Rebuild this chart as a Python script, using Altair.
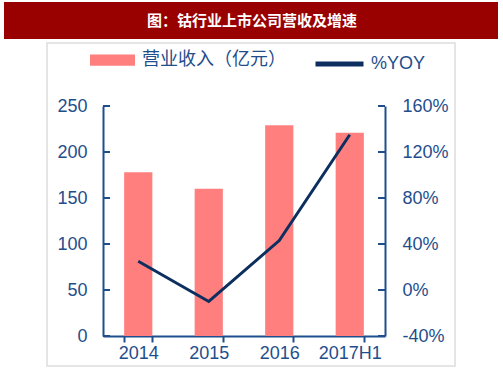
import altair as alt
import pandas as pd

# ---- data ----
years = ["2014", "2015", "2016", "2017H1"]
revenue = [178, 160, 229, 221]          # 营业收入（亿元）
yoy = [25, -10, 43, 135]                # %YOY
left_ticks = [0, 50, 100, 150, 200, 250]
right_ticks = [-40, 0, 40, 80, 120, 160]

rev_label = "营业收入（亿元）"
yoy_label = "%YOY"
title_text = "图：钴行业上市公司营收及增速"

bar_color = "#FF7F7F"
line_color = "#0D2F5F"
axis_color = "#1F4E8C"
num_font = "Liberation Sans, Arial, Helvetica, sans-serif"
cjk_font = "Liberation Sans, Noto Sans CJK SC, sans-serif"

W, H = 282, 230

df = pd.DataFrame({"year": years, "rev": revenue, "yoy": yoy,
                   "s": [rev_label] * 4, "s2": [yoy_label] * 4})
lt = pd.DataFrame({"v": left_ticks})
rt = pd.DataFrame({"v": right_ticks})
one = pd.DataFrame({"a": [0]})

x_enc = alt.X("year:N", sort=years, title=None,
              scale=alt.Scale(paddingInner=0.6, paddingOuter=0.3),
              axis=alt.Axis(orient="bottom", labelAngle=0, tickBand="extent",
                            domainColor=axis_color, domainWidth=2,
                            tickColor=axis_color, tickWidth=2, tickSize=6,
                            labelColor=axis_color, labelFontSize=18,
                            labelFont=num_font, labelPadding=2, grid=False))

left_axis = alt.Axis(orient="left", values=left_ticks, ticks=False, tickSize=0,
                     domainColor=axis_color, domainWidth=2, labelColor=axis_color,
                     labelFontSize=18, labelFont=num_font, labelPadding=16,
                     grid=False, title=None)
right_axis = alt.Axis(orient="right", values=right_ticks, ticks=False, tickSize=0,
                      domainColor=axis_color, domainWidth=2, labelColor=axis_color,
                      labelFontSize=18, labelFont=num_font, labelPadding=17,
                      labelExpr="datum.value + '%'", grid=False, title=None)
left_scale = alt.Scale(domain=[0, 250], nice=False, zero=True)
right_scale = alt.Scale(domain=[-40, 160], nice=False, zero=False)

# decorations
frame = alt.Chart(one).mark_rect(fillOpacity=0, stroke="#DDDDDD", strokeWidth=1.5).encode(
    x=alt.value(-56), x2=alt.value(352), y=alt.value(-63), y2=alt.value(260))
title_bar = alt.Chart(one).mark_rect(fill="#990000").encode(
    x=alt.value(-99), x2=alt.value(395), y=alt.value(-104), y2=alt.value(-67))
title = alt.Chart(one).mark_text(text=title_text, color="white", font="Noto Sans CJK SC",
                                 fontWeight="bold", fontSize=15, baseline="middle",
                                 align="center").encode(
    x=alt.value(149), y=alt.value(-85.5))

bars = alt.Chart(df).mark_bar().encode(
    x=x_enc,
    y=alt.Y("rev:Q", scale=left_scale, axis=left_axis),
    fill=alt.Fill("s:N", scale=alt.Scale(domain=[rev_label], range=[bar_color]),
                  legend=alt.Legend(orient="none", legendX=-13, legendY=-68.5, title=None,
                                    symbolType="M-1,-0.25H1V0.25H-1Z", symbolSize=2025,
                                    symbolStrokeWidth=0, labelFontSize=18,
                                    labelColor=axis_color, labelFont=cjk_font,
                                    labelOffset=7, padding=0)),
)
lticks = alt.Chart(lt).mark_rule(color=axis_color, strokeWidth=2).encode(
    x=alt.value(0), x2=alt.value(7),
    y=alt.Y("v:Q", scale=left_scale, axis=left_axis))

line = alt.Chart(df).mark_line(strokeWidth=3).encode(
    x=x_enc,
    y=alt.Y("yoy:Q", scale=right_scale, axis=right_axis),
    stroke=alt.Stroke("s2:N", scale=alt.Scale(domain=[yoy_label], range=[line_color]),
                      legend=alt.Legend(orient="none", legendX=210, legendY=-68.5, title=None,
                                        symbolType="stroke", symbolSize=2304,
                                        symbolStrokeWidth=5, labelFontSize=18,
                                        labelColor=axis_color, labelFont=num_font,
                                        labelOffset=5, padding=0)),
)
rticks = alt.Chart(rt).mark_rule(color=axis_color, strokeWidth=2).encode(
    x=alt.value(W - 7), x2=alt.value(W),
    y=alt.Y("v:Q", scale=right_scale, axis=right_axis))

left_layer = alt.layer(bars, lticks)
right_layer = alt.layer(line, rticks)

chart = alt.layer(frame, title_bar, title, left_layer, right_layer).resolve_scale(
    y="independent", fill="independent", stroke="independent"
).properties(
    width=W, height=H,
    autosize=alt.AutoSizeParams(type="none"),
    padding={"left": 103, "top": 106, "right": 503 - 103 - W, "bottom": 378 - 106 - H},
    background="white",
).configure_view(stroke=None)

chart.save("out.html", embed_options={"renderer": "svg", "actions": False})
